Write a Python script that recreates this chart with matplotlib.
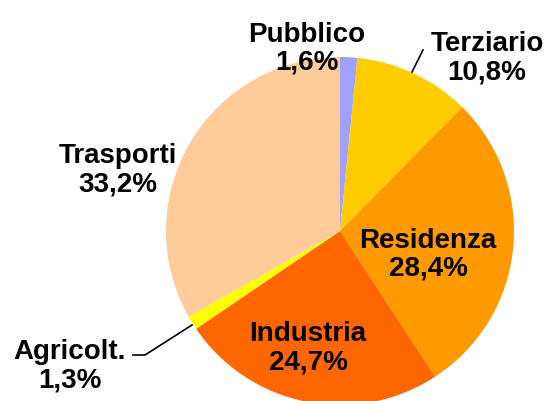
import matplotlib
matplotlib.use("Agg")
import matplotlib.pyplot as plt

# data
sectors = ["Pubblico", "Terziario", "Residenza", "Industria", "Agricolt.", "Trasporti"]
shares = [1.6, 10.8, 28.4, 24.7, 1.3, 33.2]
share_labels = ["1,6%", "10,8%", "28,4%", "24,7%", "1,3%", "33,2%"]
colors = ["#A0A0FF", "#FFCC00", "#FF9900", "#FF6600", "#FFFF00", "#FFCC99"]

# label centres in pixel coords (x, y from top)
label_pos = [(307, 49), (487, 58), (428, 255), (308, 348), (70, 366), (118, 170)]

W, H = 550, 401
fig = plt.figure(figsize=(W / 100, H / 100), dpi=100)
ax = fig.add_axes([0, 0, 1, 1])

ax.pie(shares, colors=colors, startangle=90, counterclock=False,
       center=(340, H - 231), radius=174, frame=True,
       wedgeprops=dict(linewidth=0))
ax.set_xlim(0, W)
ax.set_ylim(0, H)
ax.set_aspect("equal")
ax.axis("off")

for name, lab, (x, y) in zip(sectors, share_labels, label_pos):
    ax.text(x, H - y, f"{name}\n{lab}", ha="center", va="center", fontsize=20,
            fontweight="bold", family="Liberation Sans", linespacing=1.1)

# leader lines
ax.plot([412, 423], [H - 72, H - 50], color="black", lw=1.2)
ax.plot([192, 145, 133], [H - 325, H - 355, H - 355], color="black", lw=1.2)

fig.savefig("out.png", dpi=100)
